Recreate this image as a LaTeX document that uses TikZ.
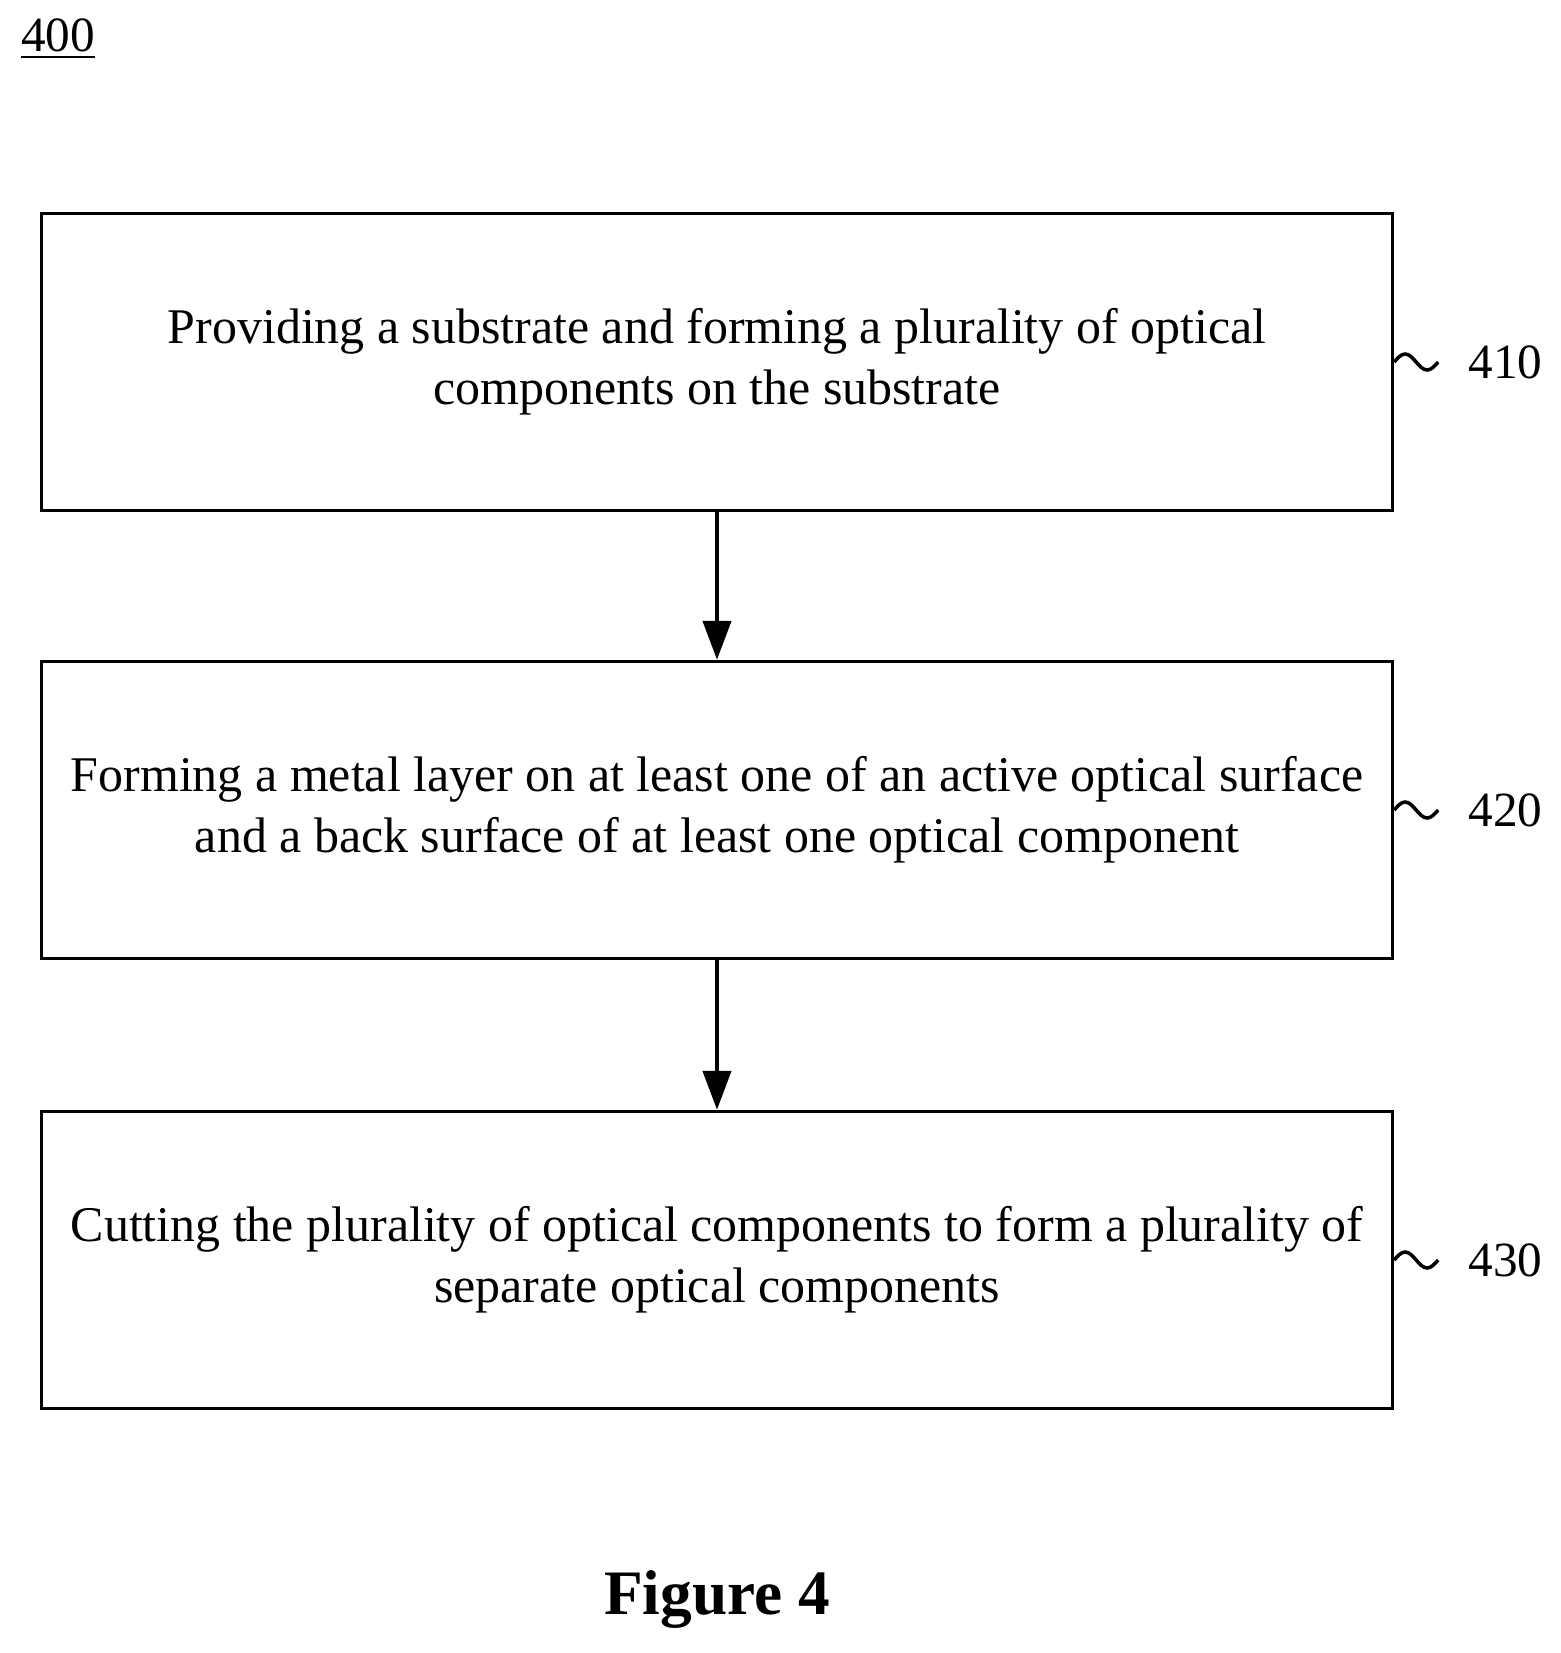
\documentclass[tikz,border=0pt]{standalone}
\usepackage{fontspec}
\setmainfont{Liberation Serif}
\usetikzlibrary{positioning,arrows.meta}
\tikzset{
  proc/.style={draw,line width=1pt,minimum width=13.5cm,minimum height=2.97cm,align=center,
    font=\fontsize{14.2}{17.4}\selectfont},
  flow/.style={-{Triangle[length=11pt,width=8pt]},line width=1pt},
  ref/.style={font=\fontsize{14}{17}\selectfont}
}
\begin{document}
\begin{tikzpicture}[x=0.01cm,y=-0.01cm]
    \useasboundingbox (0,0) rectangle (1561,1653);
    \node[font=\fontsize{14}{17}\selectfont] (fig) at (58,39) {\underline{400}};

    % Process steps
    \node[proc] (s410) at (717,362) {Providing a substrate and forming a plurality of optical\\components on the substrate};
    \node[proc] (s420) at (717,810) {Forming a metal layer on at least one of an active optical surface\\and a back surface of at least one optical component};
    \node[proc] (s430) at (717,1260) {Cutting the plurality of optical components to form a plurality of\\separate optical components};

    \draw[flow] (s410) -- (s420);
    \draw[flow] (s420) -- (s430);

    % Reference numerals with squiggles
    \foreach \s/\t in {s410/410,s420/420,s430/430} {
      \node[ref,anchor=west] (n\t) at ([xshift=0.62cm]\s.east) {\t};
      \draw[line width=1pt] (\s.east) sin +(11,-8) cos +(11,8) sin +(11,8) cos +(11,-8);
    }

    \node[font=\fontsize{18}{22}\selectfont\bfseries] (cap) at (717,1600) {Figure 4};
\end{tikzpicture}
\end{document}
